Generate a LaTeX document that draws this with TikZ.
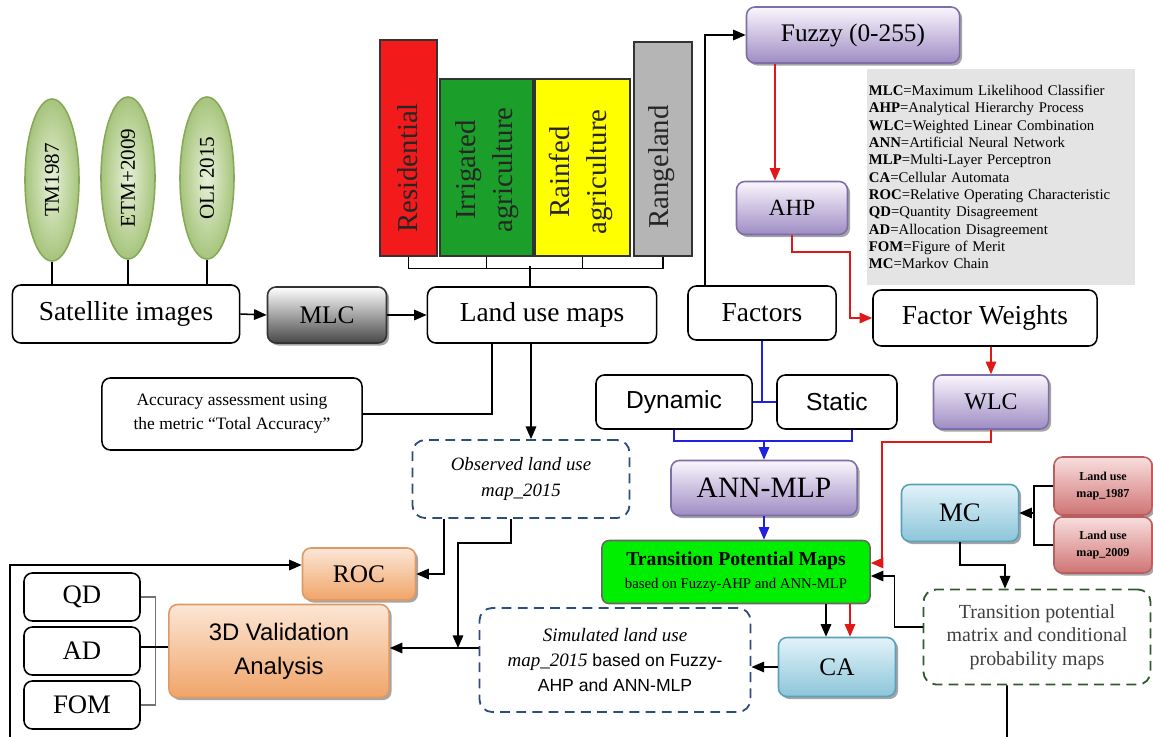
\documentclass[tikz,border=0pt]{standalone}
\usepackage{fontspec}
\setmainfont{Liberation Serif}
\setsansfont{Liberation Sans}
\usetikzlibrary{arrows.meta, shapes.geometric, shadows, calc, positioning}

\definecolor{satin}{HTML}{E8F1D8}
\definecolor{satout}{HTML}{A6C47C}
\definecolor{satedge}{HTML}{86A858}
\definecolor{purtop}{HTML}{FAF6FD}
\definecolor{purbot}{HTML}{9E8CC4}
\definecolor{puredge}{HTML}{7E6EA8}
\definecolor{orgtop}{HTML}{FCE6D6}
\definecolor{orgbot}{HTML}{F0A468}
\definecolor{orgedge}{HTML}{DE9A66}
\definecolor{blutop}{HTML}{E2F3F9}
\definecolor{blubot}{HTML}{8CC5D9}
\definecolor{bluedge}{HTML}{5C9FBB}
\definecolor{pnktop}{HTML}{F9DEDE}
\definecolor{pnkbot}{HTML}{CF7474}
\definecolor{pnkedge}{HTML}{BA5F5F}
\definecolor{legendgray}{HTML}{E4E4E4}
\definecolor{dashblue}{HTML}{2E4C7C}
\definecolor{dashgreen}{HTML}{2F5A2F}
\definecolor{tpmgreen}{HTML}{00EE00}
\definecolor{barred}{HTML}{F21A1A}
\definecolor{bargreen}{HTML}{1C9E2A}
\definecolor{baryellow}{HTML}{FFFF00}
\definecolor{bargray}{HTML}{B5B5B5}
\definecolor{flowblue}{HTML}{2020E0}
\definecolor{flowred}{HTML}{E01818}

\newcommand{\fsbig}{\fontsize{19.5}{22}\selectfont}
\newcommand{\fsmid}{\fontsize{18}{21}\selectfont}

\tikzset{
  whitebox/.style={draw, rounded corners=6pt, fill=white, align=center, inner sep=0pt},
  shadowed/.style={drop shadow={shadow xshift=1.8pt, shadow yshift=-1.8pt, opacity=0.5, fill=black!70}},
  darkbox/.style={whitebox, shadowed, draw=black!80, top color=white, bottom color=black!72},
  purplebox/.style={whitebox, shadowed, draw=puredge, top color=purtop, bottom color=purbot},
  orangebox/.style={whitebox, shadowed, draw=orgedge, top color=orgtop, bottom color=orgbot},
  bluebox/.style={whitebox, shadowed, draw=bluedge, top color=blutop, bottom color=blubot},
  pinkbox/.style={whitebox, shadowed, draw=pnkedge, top color=pnktop, bottom color=pnkbot},
  dashbox/.style={draw=dashblue, dashed, dash pattern=on 7pt off 4.5pt, rounded corners=9pt, align=center, inner sep=0pt, line width=1.3pt},
  satell/.style={ellipse, rotate=90, draw=satedge, inner color=satin, outer color=satout, minimum width=4.05cm, minimum height=1.35cm, font=\fontsize{15}{17}\selectfont},
  bar/.style={draw=black!80, rectangle, inner sep=0pt},
  bartext/.style={rotate=90, align=center, font=\fontsize{20.5}{26}\selectfont, text=black!85},
  legend/.style={fill=legendgray, minimum width=6.675cm, minimum height=5.375cm, text width=6.6cm, align=left, inner xsep=1pt, font=\fontsize{10.5}{12.3}\selectfont},
  blueline/.style={draw=flowblue},
  redline/.style={draw=flowred}
}

\begin{document}
\begin{tikzpicture}[x=0.025cm, y=-0.025cm, >={Triangle[length=9pt, width=7.5pt]}, line width=1.1pt]
\useasboundingbox (0,0) rectangle (1153,737);

\node[satell] (tm) at (52,180) {TM1987};
\node[satell] (etm) at (128,178) {ETM+2009};
\node[satell] (oli) at (207,178) {OLI 2015};
\node[whitebox, font=\fsbig, minimum width=5.675cm, minimum height=1.45cm] (sat) at (126,314) {Satellite images};
\node[darkbox, font=\fsmid, minimum width=2.975cm, minimum height=1.4cm] (mlc) at (327,315) {MLC};
\node[whitebox, font=\fsbig, minimum width=5.725cm, minimum height=1.4cm] (landuse) at (542,315) {Land use maps};

\draw (tm.west) -- (tm.west |- sat.north);
\draw (etm.west) -- (etm.west |- sat.north);
\draw (oli.west) -- (oli.west |- sat.north);
\draw[->] (sat.east) -- (mlc.west);
\draw[->] (mlc.east) -- (landuse.west);

\node[bar, fill=barred, minimum width=1.425cm, minimum height=5.4cm] (res) at (408.5,148) {};
\node[bar, fill=bargreen, minimum width=2.325cm, minimum height=4.425cm] (irr) at (486.5,167.5) {};
\node[bar, fill=baryellow, minimum width=2.375cm, minimum height=4.425cm] (rain) at (582.5,167.5) {};
\node[bar, fill=bargray, minimum width=1.45cm, minimum height=5.35cm] (range) at (663,149) {};
\node[bartext] (restext) at (408,168) {Residential};
\node[bartext] (irrtext) at (487,170) {Irrigated\\agriculture};
\node[bartext] (raintext) at (581,172) {Rainfed\\agriculture};
\node[bartext] (rangetext) at (662,167) {Rangeland};

\draw[line width=0.8pt] (res.south) -- ++(0,12) -| (range.south);
\draw[line width=0.8pt] (irr.south) -- ++(0,12);
\draw[line width=0.8pt] (rain.south) -- ++(0,12);
\draw[line width=0.8pt] (landuse.north -| 530,0) -- ++(0,-20);

\node[purplebox, font=\fontsize{18}{21}\selectfont, minimum width=5.325cm, minimum height=1.4cm] (fuzzy) at (853,35) {Fuzzy (0-255)};
\node[purplebox, font=\fontsize{16.5}{19}\selectfont, minimum width=2.775cm, minimum height=1.325cm] (ahp) at (792,208) {AHP};
\node[legend] (leg) at (1001,177) {\textbf{MLC}=Maximum Likelihood Classifier\\
\textbf{AHP}=Analytical Hierarchy Process\\
\textbf{WLC}=Weighted Linear Combination\\
\textbf{ANN}=Artificial Neural Network\\
\textbf{MLP}=Multi-Layer Perceptron\\
\textbf{CA}=Cellular Automata\\
\textbf{ROC}=Relative Operating Characteristic\\
\textbf{QD}=Quantity Disagreement\\
\textbf{AD}=Allocation Disagreement\\
\textbf{FOM}=Figure of Merit\\
\textbf{MC}=Markov Chain};
\node[whitebox, font=\fsbig, minimum width=3.7cm, minimum height=1.35cm] (factors) at (762,313) {Factors};
\node[whitebox, font=\fsbig, minimum width=5.6cm, minimum height=1.4cm] (fw) at (985,318) {Factor Weights};

\draw[->] (factors.north -| 705,0) |- (fuzzy.west);
\draw[redline, ->] (fuzzy.south -| 775,0) -- (ahp.north -| 775,0);
\draw[redline, ->] (ahp.south) |- (850,252) |- (fw.west);

\node[whitebox, font=\sffamily\fontsize{17.5}{20}\selectfont, minimum width=3.9cm, minimum height=1.35cm] (dyn) at (674,402) {Dynamic};
\node[whitebox, font=\sffamily\fontsize{17.5}{20}\selectfont, minimum width=3cm, minimum height=1.35cm] (stat) at (837,402) {Static};
\node[purplebox, font=\fontsize{17}{20}\selectfont, minimum width=2.875cm, minimum height=1.35cm] (wlc) at (991,402) {WLC};
\node[purplebox, font=\fontsize{21}{24}\selectfont, minimum width=4.65cm, minimum height=1.375cm] (ann) at (764,488) {ANN-MLP};

\draw[blueline] (factors.south) -- (factors.south |- dyn.east);
\draw[blueline] (dyn.east) -- (stat.west);
\draw[blueline] (dyn.south) |- (852,441) -- (stat.south -| 852,0);
\draw[blueline, ->] (ann.north) ++(0,-19) -- (ann.north);
\draw[redline, ->] (fw.south -| wlc.north) -- (wlc.north);

\node[whitebox, draw=black!60, fill=tpmgreen, rounded corners=5pt, font=\fontsize{14}{16.5}\selectfont, minimum width=6.7cm, minimum height=1.575cm] (tpm) at (736,572) {\textbf{Transition Potential Maps}\\{\fontsize{10.5}{12}\selectfont based on Fuzzy-AHP and ANN-MLP}};
\draw[blueline, ->] (ann.south) -- (ann.south |- tpm.north);
\draw[redline, ->] (wlc.south) |- (882,442) |- ([yshift=0.225cm]tpm.east);

\node[bluebox, font=\fontsize{19}{22}\selectfont, minimum width=2.925cm, minimum height=1.425cm] (mc) at (960,513) {MC};
\node[pinkbox, font=\bfseries\fontsize{8.6}{12}\selectfont, minimum width=2.45cm, minimum height=1.45cm] (lu87) at (1103,486) {Land use\\map\_1987};
\node[pinkbox, font=\bfseries\fontsize{8.6}{12}\selectfont, minimum width=2.45cm, minimum height=1.4cm] (lu09) at (1103,545) {Land use\\map\_2009};
\draw (lu87.west) -- ++(-19,0) |- (lu09.west);
\draw[->] (mc.east -| 1035,0) -- (mc.east);

\node[dashbox, draw=dashgreen, text=black!75, font=\fontsize{14.2}{16.7}\selectfont, minimum width=5.675cm, minimum height=2.375cm] (tpm2) at (1037,637) {Transition potential\\matrix and conditional\\probability maps};
\draw[->] (mc.south) |- (1005,565) -- (tpm2.north -| 1005,0);
\draw[->] ([yshift=0.25cm]tpm2.west) -- ++(-28,0) |- ([yshift=-0.1cm]tpm.east);

\node[bluebox, font=\fontsize{18}{21}\selectfont, minimum width=2.925cm, minimum height=1.475cm] (ca) at (837,667) {CA};
\draw[->] (tpm.south -| 826,0) -- (ca.north -| 826,0);
\draw[redline, ->] (tpm.south -| 850,0) -- (ca.north -| 850,0);

\node[dashbox, font=\fontsize{13.5}{18}\selectfont, minimum width=6.775cm, minimum height=2.6cm] (sim) at (615,660) {\textit{Simulated land use}\\\textit{map\_2015} {\sffamily\fontsize{12.5}{18}\selectfont based on Fuzzy-}\\{\sffamily\fontsize{12.5}{18}\selectfont AHP and ANN-MLP}};
\draw[->] (ca.west) -- (sim.east |- ca.west);

\node[dashbox, font=\itshape\fontsize{13.4}{18}\selectfont, minimum width=5.425cm, minimum height=1.95cm] (obs) at (521,479) {Observed land use\\map\_2015};
\node[whitebox, font=\fontsize{12.4}{17}\selectfont, minimum width=6.5cm, minimum height=1.8cm] (acc) at (232,414) {Accuracy assessment using\\the metric ``Total Accuracy''};
\draw[->] (landuse.south -| 531,0) -- (obs.north -| 531,0);
\draw (landuse.south -| 492,0) |- (acc.east);

\node[orangebox, font=\fontsize{18}{21}\selectfont, minimum width=2.825cm, minimum height=1.3cm] (roc) at (359,574) {ROC};
\node[orangebox, font=\sffamily\fontsize{17}{24}\selectfont, minimum width=5.5cm, minimum height=2.325cm] (val) at (279,651) {3D Validation\\Analysis};
\node[whitebox, font=\fontsize{19}{22}\selectfont, minimum width=2.9cm, minimum height=1.2cm] (qd) at (82,597) {QD};
\node[whitebox, font=\fontsize{19}{22}\selectfont, minimum width=2.9cm, minimum height=1.2cm] (ad) at (82,651) {AD};
\node[whitebox, font=\fontsize{19}{22}\selectfont, minimum width=2.9cm, minimum height=1.2cm] (fom) at (82,705) {FOM};
\coordinate (jn) at (458,648);

\draw[->] (obs.south -| 444,0) |- (roc.east);
\draw[->] (obs.south -| 511,0) -- ++(0,24) -| (jn);
\draw[->] (sim.west |- jn) -- (val.east |- jn);
\draw[draw=black!55, line width=0.8pt] (qd.east) -- ++(15,0) |- (fom.east);
\draw (ad.east |- 0,647) -- (val.west |- 0,647);
\draw[->] (tpm2.south -| 1007,0) -- (1007,780) -| (10,565) -- ([yshift=0.225cm]roc.west);
\end{tikzpicture}
\end{document}
